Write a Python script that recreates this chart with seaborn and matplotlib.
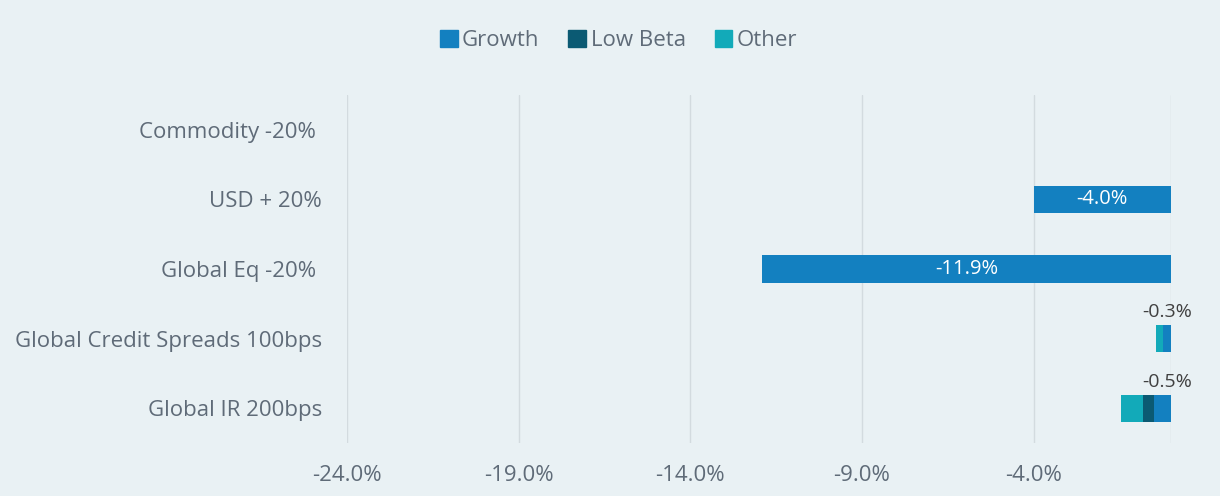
import matplotlib
matplotlib.use("Agg")
import matplotlib.pyplot as plt
import numpy as np
import pandas as pd
import seaborn as sns
from matplotlib.patches import Patch

categories = ["Commodity -20% ", "USD + 20%", "Global Eq -20% ",
              "Global Credit Spreads 100bps", "Global IR 200bps"]
growth = [0.0, -4.0, -11.9, -0.22, -0.48]
low_beta = [0.0, 0.0, 0.0, 0.0, -0.33]
other = [0.0, 0.0, 0.0, -0.21, -0.65]
total_labels = ["", "-4.0%", "-11.9%", "-0.3%", "-0.5%"]
xticks = [-24, -19, -14, -9, -4]

bg = "#e9f1f4"
c_growth = "#1380c0"
c_low = "#0b5a73"
c_other = "#12aab9"
txt = "#5f6b78"

sns.set_style("white")
plt.rcParams['font.family'] = ['Open Sans', 'DejaVu Sans']

df = pd.DataFrame({"cat": categories, "growth": growth,
                   "low_beta": low_beta, "other": other})
df["s2"] = df["growth"] + df["low_beta"]
df["s3"] = df["s2"] + df["other"]

fig = plt.figure(figsize=(12.2, 4.96), dpi=100, facecolor=bg)
ax = fig.add_axes([0.2844, 0.107, 0.9598 - 0.2844, 0.8085 - 0.107])
ax.set_facecolor(bg)

w = 0.39
kw = dict(width=w, ax=ax, saturation=1, orient="h", linewidth=0)
sns.barplot(data=df, x="s3", y="cat", color=c_other, **kw)
sns.barplot(data=df, x="s2", y="cat", color=c_low, **kw)
sns.barplot(data=df, x="growth", y="cat", color=c_growth, **kw)

# labels: inside for big bars, above for small ones
for i, lab in enumerate(total_labels):
    if not lab:
        continue
    tot = df["s3"][i]
    if abs(tot) > 2:
        ax.text(tot / 2, i, lab, color="white", ha="center", va="center",
                fontsize=14.5)
    else:
        ax.text(-0.1, i - w / 2 - 0.05, lab, color="#404040", ha="center",
                va="bottom", fontsize=14)

ax.set_xlim(-24, 0)
ax.set_ylim(4.5, -0.5)
ax.set_xticks(xticks)
ax.set_xticklabels([f"{t:.1f}%" for t in xticks])
ax.xaxis.grid(True, color="#d3dbdf", linewidth=1)
ax.axvline(0, color="#d3dbdf", linewidth=1, zorder=0)
ax.set_axisbelow(True)
for s in ax.spines.values():
    s.set_visible(False)
ax.tick_params(axis="x", length=0, pad=16, labelsize=16, labelcolor=txt)
ax.tick_params(axis="y", length=0, pad=18, labelsize=16, labelcolor=txt)
ax.set_xlabel("")
ax.set_ylabel("")

handles = [Patch(color=c_growth), Patch(color=c_low), Patch(color=c_other)]
fig.legend(handles, ["Growth", "Low Beta", "Other"], loc="center",
           bbox_to_anchor=(0.507, 0.919), ncol=3, frameon=False,
           fontsize=16, labelcolor=txt, handlelength=0.8, handleheight=0.8,
           handletextpad=0.2, columnspacing=1.3)

fig.savefig("out.png", dpi=100, facecolor=bg)
